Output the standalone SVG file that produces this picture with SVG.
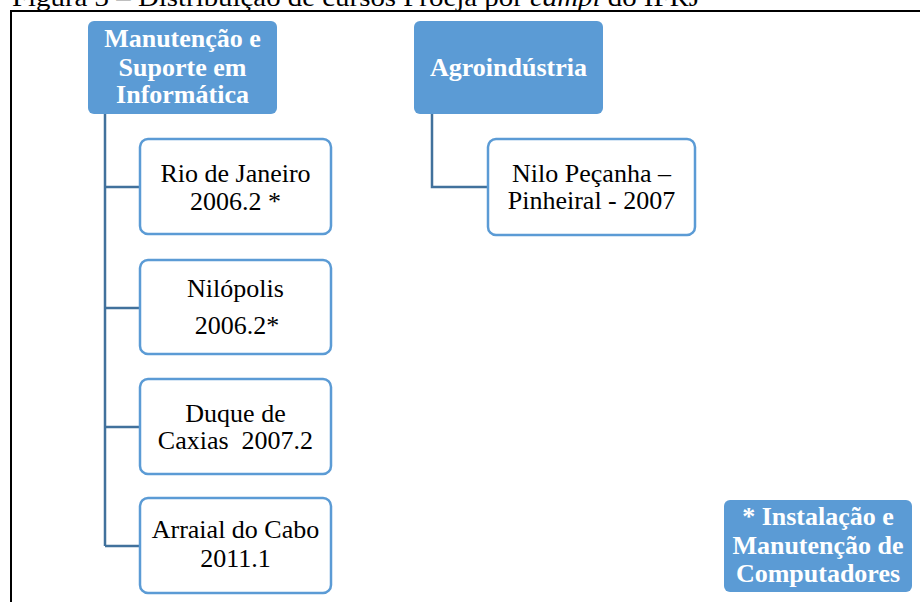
<svg xmlns="http://www.w3.org/2000/svg" width="920" height="602" viewBox="0 0 920 602">
<style>
.cap{font-family:"Liberation Serif","Times New Roman",serif;font-size:26px;fill:#000}
.hd{fill:#5B9BD5}
.ht{font-family:"Liberation Serif","Times New Roman",serif;font-size:26px;font-weight:bold;fill:#fff;text-anchor:middle}
.ch{fill:#fff;stroke:#5B9BD5;stroke-width:2.5}
.ct{font-family:"Liberation Serif","Times New Roman",serif;font-size:26px;fill:#000;text-anchor:middle}
.cn{fill:none;stroke:#41719C;stroke-width:2.5}
</style>
<rect width="920" height="602" fill="#fff"/>
<text class="cap" x="12" y="6" textLength="688" lengthAdjust="spacingAndGlyphs">Figura 3 – Distribuição de cursos Proeja por <tspan font-style="italic">campi</tspan> do IFRJ</text>
<path d="M11 602 V11 H920" fill="none" stroke="#000" stroke-width="2"/>
<g id="connectors">
<path class="cn" d="M105 114 V546"/>
<path class="cn" d="M105 187 H140"/>
<path class="cn" d="M105 308 H140"/>
<path class="cn" d="M105 427 H140"/>
<path class="cn" d="M105 546 H140"/>
<path class="cn" d="M432 114 V187 H488"/>
</g>
<g id="manutencao">
<rect class="hd" x="88" y="21" width="189" height="93" rx="6"/>
<text class="ht" x="182.5" y="47">Manutenção e</text>
<text class="ht" x="182.5" y="76">Suporte em</text>
<text class="ht" x="182.5" y="103">Informática</text>
</g>
<g id="agroindustria">
<rect class="hd" x="414" y="21" width="189" height="93" rx="6"/>
<text class="ht" x="508.5" y="76">Agroindústria</text>
</g>
<g id="rio">
<rect class="ch" x="140" y="139" width="191" height="95" rx="8"/>
<text class="ct" x="235.5" y="182">Rio de Janeiro</text>
<text class="ct" x="235.5" y="210">2006.2 *</text>
</g>
<g id="nilopolis">
<rect class="ch" x="140" y="260" width="191" height="94" rx="8"/>
<text class="ct" x="235.5" y="297">Nilópolis</text>
<text class="ct" x="237" y="334">2006.2*</text>
</g>
<g id="caxias">
<rect class="ch" x="140" y="379" width="191" height="95" rx="8"/>
<text class="ct" x="235.5" y="422">Duque de</text>
<text class="ct" x="235.5" y="449" xml:space="preserve">Caxias  2007.2</text>
</g>
<g id="arraial">
<rect class="ch" x="140" y="498" width="191" height="95" rx="8"/>
<text class="ct" x="235.5" y="538">Arraial do Cabo</text>
<text class="ct" x="235.5" y="567">2011.1</text>
</g>
<g id="nilo">
<rect class="ch" x="488" y="139" width="207" height="96" rx="8"/>
<text class="ct" x="591.5" y="182">Nilo Peçanha –</text>
<text class="ct" x="591.5" y="209">Pinheiral - 2007</text>
</g>
<g id="legenda">
<rect class="hd" x="724" y="500" width="188" height="92" rx="6"/>
<text class="ht" x="818" y="525">* Instalação e</text>
<text class="ht" x="818" y="554">Manutenção de</text>
<text class="ht" x="818" y="582">Computadores</text>
</g>
</svg>
